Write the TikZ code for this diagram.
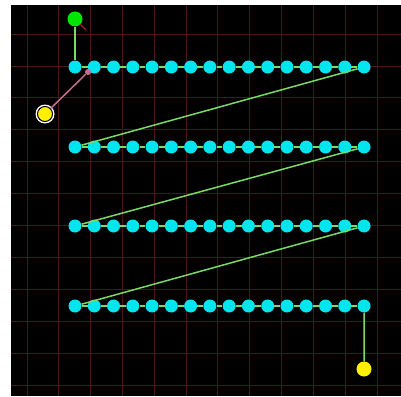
\documentclass[tikz,border=0pt]{standalone}
\begin{document}
\begin{tikzpicture}[x=1pt,y=-1pt,
  dotc/.style={circle,fill={rgb,255:red,0;green,229;blue,238},minimum size=13pt,inner sep=0pt},
  startc/.style={circle,fill={rgb,255:red,0;green,230;blue,0},minimum size=15pt,inner sep=0pt},
  endc/.style={circle,fill={rgb,255:red,255;green,240;blue,0},minimum size=15pt,inner sep=0pt},
  homec/.style={circle,fill={rgb,255:red,255;green,240;blue,0},draw=black,line width=1pt,minimum size=15pt,inner sep=0pt},
  pinkc/.style={circle,fill={rgb,255:red,200;green,110;blue,140},minimum size=6pt,inner sep=0pt},
  gridl/.style={draw={rgb,255:red,72;green,24;blue,24},line width=0.9pt},
  path/.style={draw={rgb,255:red,120;green,220;blue,100},line width=1.5pt},
  pinkl/.style={draw={rgb,255:red,200;green,110;blue,140},line width=1.5pt},
  redl/.style={draw={rgb,255:red,170;green,30;blue,30},line width=1.3pt}]
\useasboundingbox (0,0) rectangle (401,396);
\fill[white] (0,0) rectangle (401,396);
\fill[black] (11,5) rectangle (401,396);
\begin{scope}
\clip (11,5) rectangle (401,396);
\foreach \k in {0,...,11} {
  \draw[gridl] ({27+31.82*\k},5) -- ({27+31.82*\k},396);
  \draw[gridl] (11,{34.1+31.9*\k}) -- (401,{34.1+31.9*\k});
}
\end{scope}
% dots
\foreach \r/\y in {1/67,2/147,3/226,4/306} {
  \foreach \c in {1,...,16} {
    \node[dotc] (d\r-\c) at ({75+19.27*(\c-1)},\y) {};
  }
}
\node[startc] (start) at (75,19) {};
\node[endc] (end) at (364,369) {};
\fill[white] (45,114) circle (9.5pt);
\node[homec] (home) at (45,114) {};
\node[pinkc] (pk) at (88,72) {};
\coordinate (rt) at (86,30);
% connectors
\draw[path] (start) -- (d1-1);
\foreach \r in {1,...,4} {
  \foreach \c [evaluate=\c as \n using int(\c+1)] in {1,...,15} {
    \draw[path] (d\r-\c) -- (d\r-\n);
  }
}
\draw[path] (d1-16) -- (d2-1);
\draw[path] (d2-16) -- (d3-1);
\draw[path] (d3-16) -- (d4-1);
\draw[path] (d4-16) -- (end);
\draw[pinkl] (home) -- (pk);
\draw[redl] (start) -- (rt);
\end{tikzpicture}
\end{document}
